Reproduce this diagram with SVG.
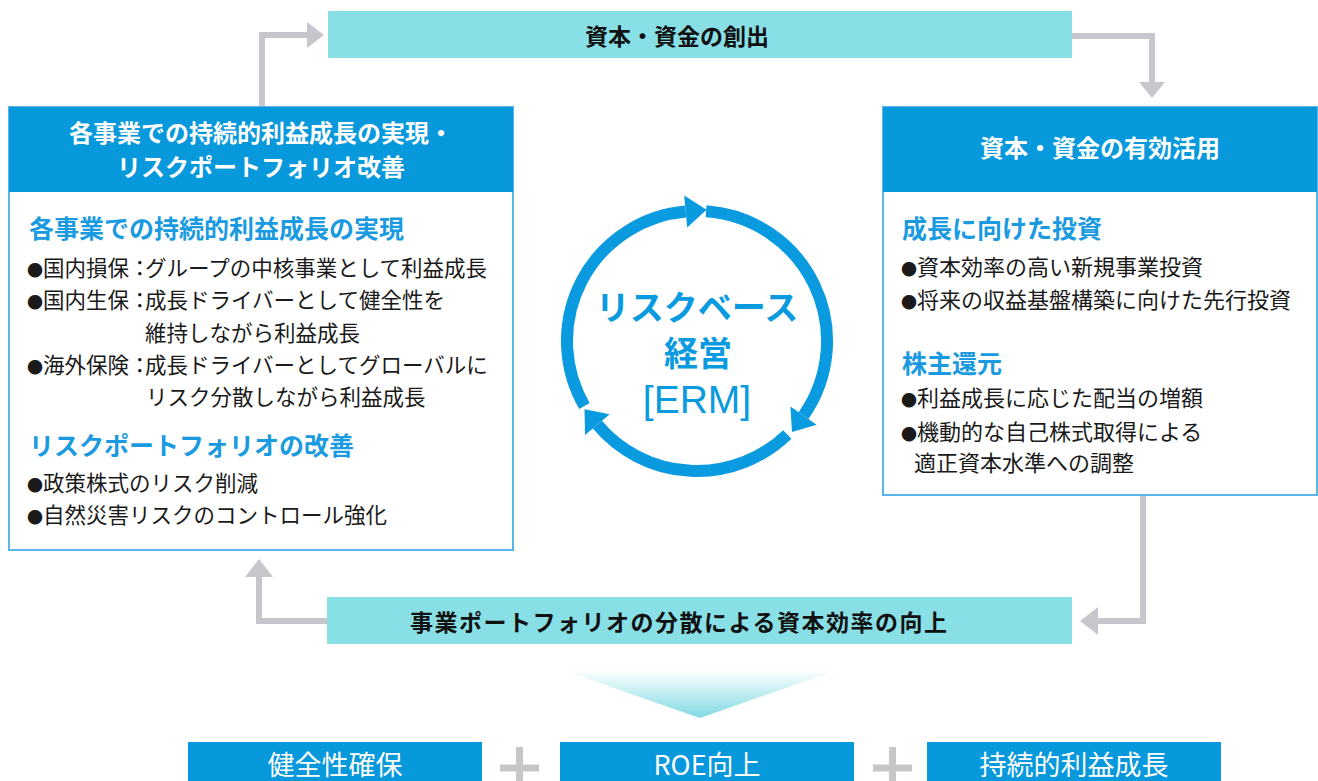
<svg xmlns="http://www.w3.org/2000/svg" width="1318" height="781" viewBox="0 0 1318 781">
<defs>
<linearGradient id="fade" x1="0" y1="0" x2="0" y2="1">
<stop offset="0" stop-color="#ffffff"/>
<stop offset="1" stop-color="#80d9e2"/>
</linearGradient>
<style>
.jp{font-family:"Noto Sans CJK JP","Noto Sans CJK SC",sans-serif;}
.hd{font-size:24px;font-weight:bold;fill:#ffffff;}
.bar{fill:#88dfe6;}
.bartxt{font-size:23px;font-weight:bold;fill:#111111;}
.sub{font-size:25px;font-weight:bold;fill:#1a9ae0;}
.it{font-size:21.5px;fill:#1a1a1a;}
.itr{font-size:22px;fill:#1a1a1a;}
.bl{font-size:16px;}
.box{fill:#ffffff;stroke:#5ab6e8;stroke-width:2;}
.head{fill:#0898dc;}
.out{font-size:27px;fill:#ffffff;}
.conn{fill:none;stroke:#c5c7cd;stroke-width:6;}
.ah{fill:#c5c7cd;}
.ring{fill:none;stroke:#0a9ae0;stroke-width:12;}
.ringah{fill:#0a9ae0;}
.plus{fill:#c6c6c6;}
</style>
</defs>
<rect width="1318" height="781" fill="#ffffff"/>

<g id="connectors">
<path class="conn" d="M262,107 V35 H309"/>
<polygon class="ah" points="307,22 324,35 307,48"/>
<path class="conn" d="M1072,36 H1152 V84"/>
<polygon class="ah" points="1139,82 1165,82 1152,98"/>
<path class="conn" d="M1143,495 V621 H1097"/>
<polygon class="ah" points="1098,607 1098,635 1080,621"/>
<path class="conn" d="M327,621 H259 V576"/>
<polygon class="ah" points="245,577 273,577 259,559"/>
</g>

<g id="capital-creation">
<rect class="bar" x="328" y="11" width="744" height="47"/>
<text class="jp bartxt" x="677" y="44.5" text-anchor="middle">資本・資金の創出</text>
</g>

<g id="left-box">
<rect class="box" x="9" y="107" width="504" height="443"/>
<rect class="head" x="9" y="107" width="504" height="85"/>
<text class="jp hd" x="261" y="142" text-anchor="middle" font-size="25">各事業での持続的利益成長の実現・</text>
<text class="jp hd" x="261" y="176" text-anchor="middle">リスクポートフォリオ改善</text>
<text class="jp sub" x="29" y="237.5">各事業での持続的利益成長の実現</text>
<text class="jp it" x="27" y="276"><tspan class="bl">●</tspan>国内損保：</text>
<text class="jp it" x="145" y="276">グループの中核事業として利益成長</text>
<text class="jp it" x="27" y="308"><tspan class="bl">●</tspan>国内生保：</text>
<text class="jp it" x="145" y="308">成長ドライバーとして健全性を</text>
<text class="jp it" x="145" y="341">維持しながら利益成長</text>
<text class="jp it" x="27" y="373"><tspan class="bl">●</tspan>海外保険：</text>
<text class="jp it" x="145" y="373">成長ドライバーとしてグローバルに</text>
<text class="jp it" x="146" y="405">リスク分散しながら利益成長</text>
<text class="jp sub" x="29" y="454.5">リスクポートフォリオの改善</text>
<text class="jp it" x="27" y="491"><tspan class="bl">●</tspan>政策株式のリスク削減</text>
<text class="jp it" x="27" y="523"><tspan class="bl">●</tspan>自然災害リスクのコントロール強化</text>
</g>

<g id="right-box">
<rect class="box" x="883" y="107" width="434" height="388"/>
<rect class="head" x="883" y="107" width="434" height="85"/>
<text class="jp hd" x="1100" y="157" text-anchor="middle">資本・資金の有効活用</text>
<text class="jp sub" x="902" y="237.5">成長に向けた投資</text>
<text class="jp itr" x="901" y="275"><tspan class="bl">●</tspan>資本効率の高い新規事業投資</text>
<text class="jp itr" x="901" y="308"><tspan class="bl">●</tspan>将来の収益基盤構築に向けた先行投資</text>
<text class="jp sub" x="902" y="372.5">株主還元</text>
<text class="jp itr" x="901" y="406"><tspan class="bl">●</tspan>利益成長に応じた配当の増額</text>
<text class="jp itr" x="901" y="440"><tspan class="bl">●</tspan>機動的な自己株式取得による</text>
<text class="jp itr" x="914" y="471">適正資本水準への調整</text>
</g>

<g id="erm-cycle">
<path class="ring" d="M706.1,211.3 A130,130 0 0 1 803.5,415.6"/>
<polygon class="ringah" points="816.6,424.8 790.4,406.4 792.0,432.0"/>
<path class="ring" d="M787.3,434.5 A130,130 0 0 1 597.4,424.6"/>
<polygon class="ringah" points="585.1,434.9 609.7,414.3 584.5,409.3"/>
<path class="ring" d="M584.4,406 A130,130 0 0 1 685.7,211.5"/>
<polygon class="ringah" points="684.2,195.6 687.2,227.4 706.6,209.8"/>
<text class="jp" x="697" y="320" text-anchor="middle" font-size="34" font-weight="bold" fill="#0a9ae0">リスクベース</text>
<text class="jp" x="698" y="366" text-anchor="middle" font-size="34" font-weight="bold" fill="#0a9ae0">経営</text>
<text x="697" y="413" text-anchor="middle" font-family="Liberation Sans, Arial, sans-serif" font-size="39" fill="#0a9ae0">[ERM]</text>
</g>

<g id="portfolio-diversification">
<rect class="bar" x="327" y="597" width="745" height="47"/>
<text class="jp bartxt" x="410" y="631" font-size="24" textLength="537" lengthAdjust="spacing">事業ポートフォリオの分散による資本効率の向上</text>
</g>

<g id="result-arrow">
<polygon points="562,670 837,670 700,718" fill="url(#fade)"/>
</g>

<g id="soundness">
<rect class="head" x="188" y="742" width="294" height="50"/>
<text class="jp out" x="335" y="775" text-anchor="middle">健全性確保</text>
</g>
<g id="plus-1">
<rect class="plus" x="500" y="764.5" width="39" height="7"/>
<rect class="plus" x="516" y="747" width="7" height="40"/>
</g>
<g id="roe">
<rect class="head" x="560" y="742" width="294" height="50"/>
<text class="jp out" x="707" y="775" text-anchor="middle">ROE向上</text>
</g>
<g id="plus-2">
<rect class="plus" x="873" y="764.5" width="39" height="7"/>
<rect class="plus" x="889" y="747" width="7" height="40"/>
</g>
<g id="sustainable-growth">
<rect class="head" x="927" y="742" width="294" height="50"/>
<text class="jp out" x="1074" y="775" text-anchor="middle">持続的利益成長</text>
</g>
</svg>
